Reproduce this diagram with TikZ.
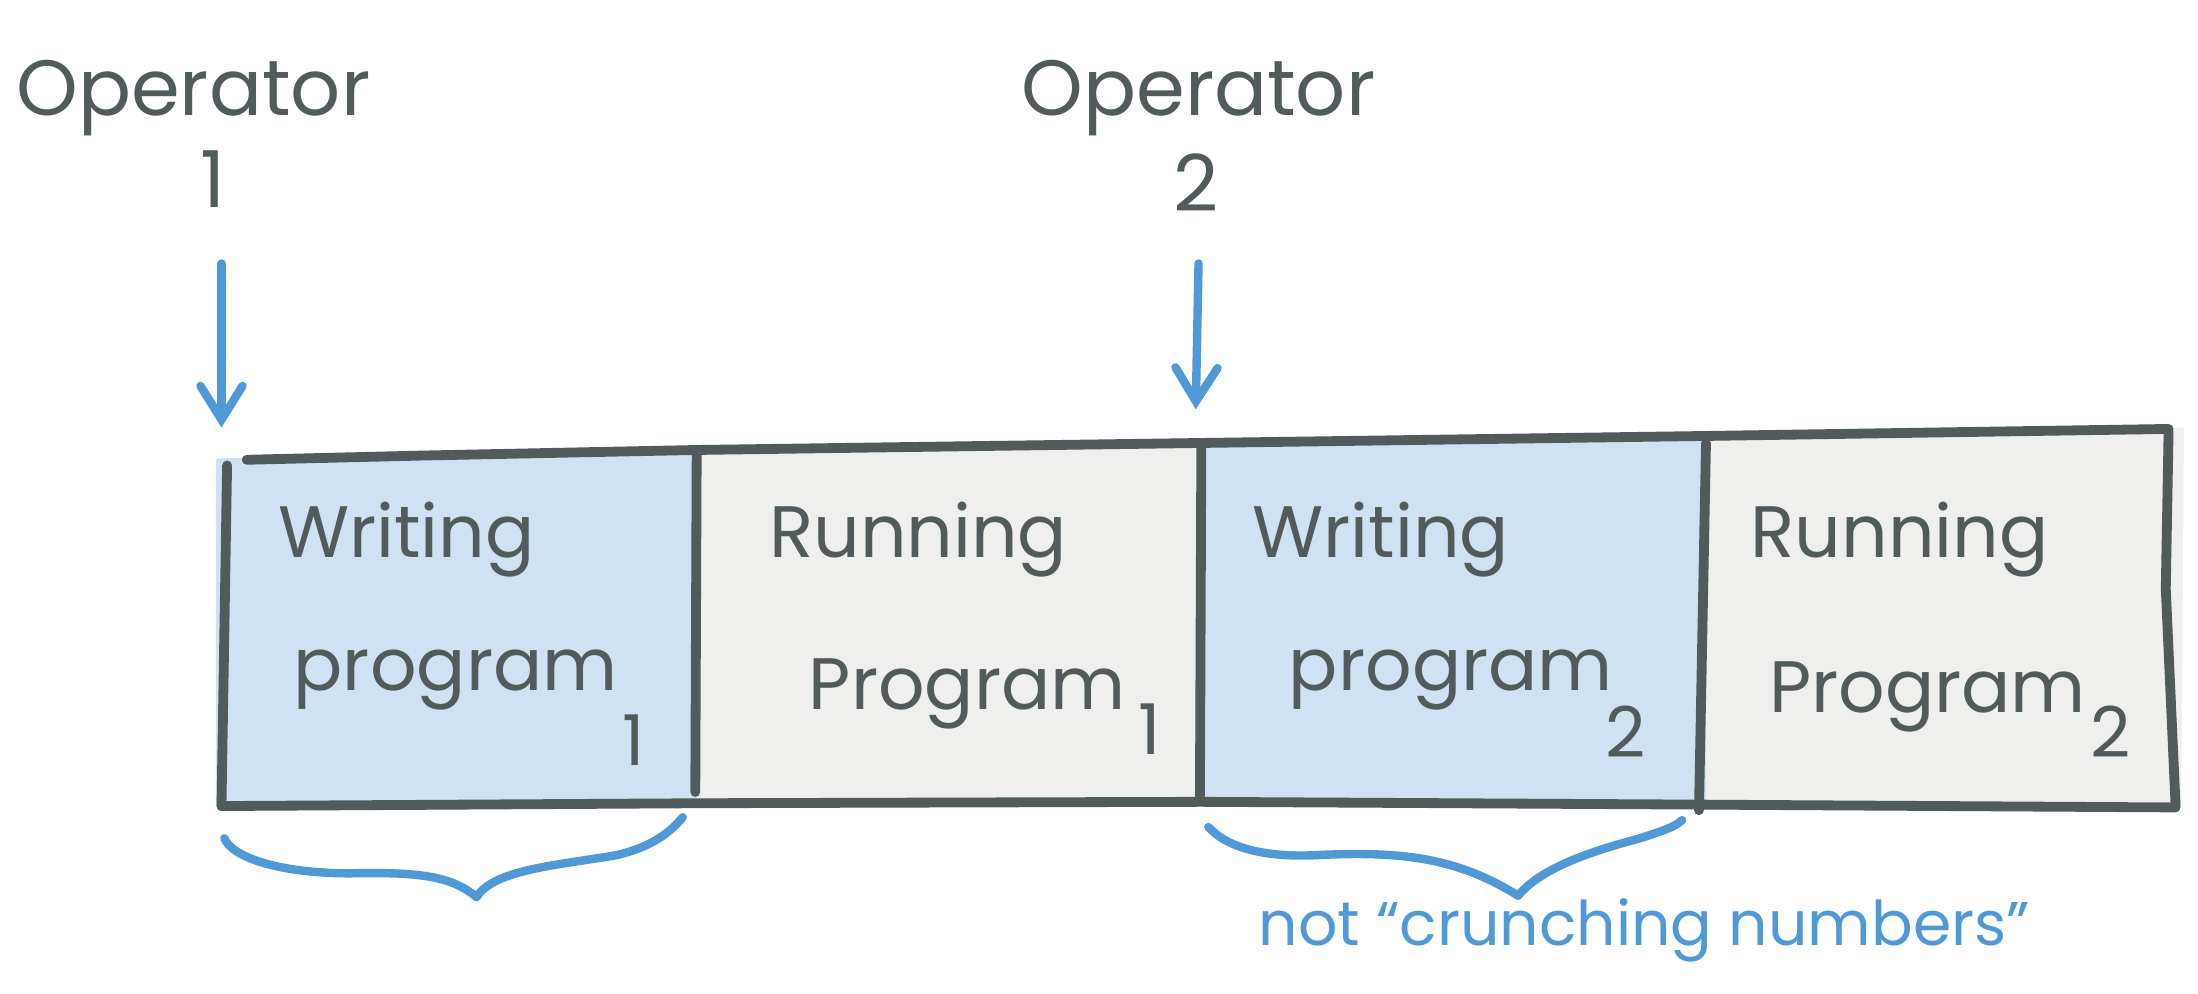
\documentclass[tikz,border=0pt]{standalone}
\usepackage{fontspec}
\setmainfont{Poppins}
\usetikzlibrary{arrows.meta,positioning}

\definecolor{inkgray}{HTML}{525B5C}
\definecolor{inkblue}{HTML}{5098D6}
\definecolor{cellblue}{HTML}{CFE2F3}
\definecolor{cellgray}{HTML}{EFEFED}

\tikzset{
  ink/.style={draw=inkgray,line width=7pt,line cap=round,line join=round},
  pen/.style={draw=inkblue,line width=6pt,line cap=round,line join=round},
  optext/.style={text=inkgray,inner sep=0pt,font=\fontsize{56}{60}\selectfont},
  celltext/.style={text=inkgray,inner sep=0pt,font=\fontsize{52}{56}\selectfont},
  subtext/.style={text=inkgray,inner sep=0pt,font=\fontsize{50}{52}\selectfont},
  notetext/.style={text=inkblue,inner sep=0pt,font=\fontsize{44}{48}\selectfont},
  pointer/.style={pen,-{Straight Barb[length=24pt,width=30pt,line cap=round]}}
}

\begin{document}
\begin{tikzpicture}[x=1pt,y=-1pt]
\useasboundingbox (0,0) rectangle (1568,709);

% cell backgrounds
\fill[cellblue] (154,327) -- (497,321) -- (497,572) -- (154,575) -- cycle;
\fill[cellgray] (497,321) -- (857,316) -- (857,572) -- (497,572) -- cycle;
\fill[cellblue] (857,316) -- (1217,311) -- (1217,573) -- (857,572) -- cycle;
\fill[cellgray] (1217,311) -- (1558,305) -- (1556,572) -- (1217,573) -- cycle;

% outline
\draw[ink] (176,328) -- (300,325) -- (497,321) -- (857,316) -- (1217,311) -- (1547,306);
\draw[ink] (158,575) -- (500,573) -- (857,572) -- (1215,574) -- (1552,576);
\draw[ink] (162,332) -- (158,575);
\draw[ink] (1547,308) -- (1545,420) -- (1552,575);
\draw[ink] (497,322) -- (496,565);
\draw[ink] (857,317) -- (856,568);
\draw[ink] (1217,316) -- (1212,578);

% operators
\node[optext] (op1) at (138,70) {Operator};
\node[optext] (op1num) at (152,128) {1};
\node[optext] (op2) at (855,70) {Operator};
\node[optext] (op2num) at (853,130) {2};

\coordinate (hit1) at (158,305);
\coordinate (hit2) at (853,292);
\draw[pointer] (op1num) ++(6,60) -- (hit1);
\draw[pointer] (op2num) ++(2,58) -- (hit2);

% cell labels
\node[celltext] (w1) at (290,385) {Writing};
\node[celltext] (p1) at (325,485) {program};
\node[subtext] (p1num) at (452,528) {1};
\node[celltext] (r1) at (655,385) {Running};
\node[celltext] (q1) at (690,495) {Program};
\node[subtext] (q1num) at (820,520) {1};
\node[celltext] (w2) at (985,385) {Writing};
\node[celltext] (p2) at (1035,485) {program};
\node[subtext] (p2num) at (1160,522) {2};
\node[celltext] (r2) at (1355,385) {Running};
\node[celltext] (q2) at (1375,497) {Program};
\node[subtext] (q2num) at (1506,522) {2};

% braces
\draw[pen] (160,598) .. controls (166,612) and (200,623) .. (250,623)
  .. controls (300,622) and (322,625) .. (340,640)
  .. controls (352,620) and (400,617) .. (440,610)
  .. controls (465,604) and (478,594) .. (487,583);
\draw[pen] (862,590) .. controls (875,604) and (900,612) .. (940,610)
  .. controls (1000,607) and (1040,612) .. (1083,639)
  .. controls (1100,618) and (1140,606) .. (1170,598)
  .. controls (1185,593) and (1195,590) .. (1200,585);

\node[notetext] (note) at (1173,664) {not “crunching numbers”};
\end{tikzpicture}
\end{document}
